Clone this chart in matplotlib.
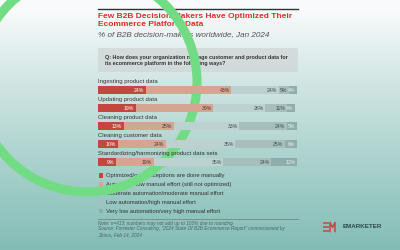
import matplotlib
matplotlib.use("Agg")
import matplotlib.pyplot as plt
import numpy as np
from matplotlib.patches import Rectangle, Circle

plt.rcParams['font.family'] = ['Liberation Sans', 'DejaVu Sans']

# data
tasks = ["Ingesting product data", "Updating product data", "Cleaning product data",
         "Cleaning customer data", "Standardizing/harmonizing product data sets"]
optimized = [24, 19, 13, 10, 9]
automated = [43, 39, 25, 24, 19]
moderate = [24, 26, 33, 35, 35]
low_auto = [5, 11, 24, 25, 24]
very_low = [4, 4, 5, 6, 13]
series_names = ["Optimized/only exceptions are done manually",
                "Automated/low manual effort (still not optimized)",
                "Moderate automation/moderate manual effort",
                "Low automation/high manual effort",
                "Very low automation/very high manual effort"]

colors = ['#c4473f', '#d4a691', '#bdd2d0', '#a6bfbd', '#8fadab']
label_colors = ['white', '#4a3a34', '#3d4f4e', '#3d4f4e', '#e8f0ef']

W, H = 400, 250
fig = plt.figure(figsize=(4, 2.5), dpi=100)

# background in pixel coordinates
bg = fig.add_axes([0, 0, 1, 1])
bg.set_xlim(0, W)
bg.set_ylim(H, 0)
bg.axis('off')
t = np.linspace(0, 1, 256)
top = np.array([0.975, 0.982, 0.985])
bot = np.array([0.51, 0.74, 0.71])
w = np.clip((t - 0.05) / 0.95, 0, 1) ** 0.9
grad = top[None, :] * (1 - w[:, None]) + bot[None, :] * w[:, None]
bg.imshow(grad[:, None, :], extent=[0, W, H, 0], aspect='auto', zorder=0)

# header
bg.plot([98, 298], [9, 9], color='#333333', lw=1.0, zorder=2)
bg.text(98, 16, "Few B2B Decision-Makers Have Optimized Their", color='#d8302a',
        fontsize=6.0, fontweight='bold', va='center', ha='left', zorder=2)
bg.text(98, 25, "Ecommerce Platform Data", color='#d8302a',
        fontsize=6.0, fontweight='bold', va='center', ha='left', zorder=2)
bg.text(98, 34.5, "% of B2B decision-makers worldwide, Jan 2024", color='#555555',
        fontsize=5.9, style='italic', va='center', ha='left', zorder=2)

# question box
bg.add_patch(Rectangle((98, 48), 200, 24, facecolor='#cfd6d6', alpha=0.75,
                       edgecolor='none', zorder=1))
bg.text(105, 57, "Q: How does your organization manage customer and product data for",
        fontsize=3.85, fontweight='bold', color='#333333', va='center', zorder=2)
bg.text(105, 64, "its ecommerce platform in the following ways?",
        fontsize=3.85, fontweight='bold', color='#333333', va='center', zorder=2)

# bars
ax = fig.add_axes([98 / W, 1 - 171 / H, 199 / W, 90 / H])
ax.set_xlim(0, 100)
ax.set_ylim(len(tasks) - 0.5, -0.5)
ax.axis('off')
ax.patch.set_alpha(0)
ypos = np.arange(len(tasks))
series = [optimized, automated, moderate, low_auto, very_low]
left = np.zeros(len(tasks))
for k, vals in enumerate(series):
    vals = np.array(vals, dtype=float)
    ax.barh(ypos, vals, left=left, height=0.44, color=colors[k], edgecolor='none')
    for i, v in enumerate(vals):
        ax.text(left[i] + v - 0.8, ypos[i], f"{int(v)}%", ha='right', va='center',
                fontsize=3.7, color=label_colors[k])
    left += vals
for i, name in enumerate(tasks):
    ax.text(0, ypos[i] - 0.5, name, ha='left', va='center', fontsize=4.35, color='#333333')

# legend
leg_y = [175.5, 184.5, 193.5, 202.3, 211]
for k, name in enumerate(series_names):
    bg.add_patch(Rectangle((98.5, leg_y[k] - 2.3), 4.6, 4.6, facecolor=colors[k],
                           edgecolor='none', zorder=2))
    bg.text(106, leg_y[k], name, fontsize=4.25, color='#333333', va='center', zorder=2)

# footer
bg.plot([98, 298], [219, 219], color='#6f8a88', lw=0.6, zorder=2)
notes = ["Note: n=413; numbers may not add up to 100% due to rounding",
         "Source: Forrester Consulting, \"2024 State Of B2B Ecommerce Report\" commissioned by",
         "Zoovu, Feb 14, 2024"]
for j, line in enumerate(notes):
    bg.text(98, 223.2 + j * 5.6, line, fontsize=3.4, style='italic', color='#4f6462',
            va='center', zorder=2)

# logo
for yy in (223, 226.8, 230.6):
    bg.plot([323, 329], [yy, yy], color='#c44a40', lw=1.1, solid_capstyle='butt', zorder=2)
bg.plot([330, 330, 332.5, 335, 335], [231.5, 222.5, 227.5, 222.5, 231.5], color='#c44a40',
        lw=1.1, zorder=2)
bg.text(343, 227, "EMARKETER", fontsize=4.5, fontweight='bold', color='#2c4a4a',
        va='center', ha='left', zorder=2)

# green ring
bg.add_patch(Circle((87, 82), 110, facecolor='none', edgecolor='#72dc84', lw=6.5, zorder=5))

fig.savefig("out.png", dpi=100)
